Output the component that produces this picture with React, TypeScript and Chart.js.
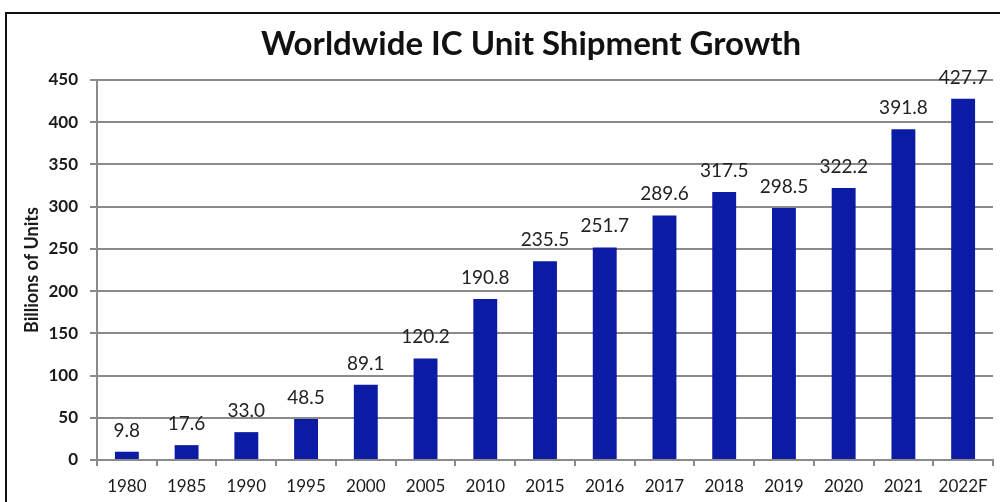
import React, { useEffect, useRef } from "react";
import { Chart, registerables } from "chart.js";

Chart.register(...registerables);

const categories = ["1980", "1985", "1990", "1995", "2000", "2005", "2010", "2015", "2016", "2017", "2018", "2019", "2020", "2021", "2022F"];
const shipments = [9.8, 17.6, 33.0, 48.5, 89.1, 120.2, 190.8, 235.5, 251.7, 289.6, 317.5, 298.5, 322.2, 391.8, 427.7];
const chartTitle = "Worldwide IC Unit Shipment Growth";
const yTitle = "Billions of Units";

const FONT = "Lato, 'Open Sans', sans-serif";

const decorPlugin = {
  id: "decor",
  beforeDraw(chart: any) {
    const ctx = chart.ctx;
    ctx.save();
    ctx.fillStyle = "#ffffff";
    ctx.fillRect(0, 0, chart.width, chart.height);
    ctx.fillStyle = "#111111";
    ctx.fillRect(5, 12, chart.width - 5, 2);
    ctx.fillRect(5, 12, 2, chart.height - 12);
    ctx.restore();
  },
  afterDraw(chart: any) {
    const ctx = chart.ctx;
    ctx.save();
    ctx.fillStyle = "#111111";
    ctx.font = `bold 33px ${FONT}`;
    ctx.textAlign = "center";
    ctx.textBaseline = "alphabetic";
    ctx.fillText(chartTitle, 531, 55);
    const meta = chart.getDatasetMeta(0);
    ctx.font = `19px ${FONT}`;
    ctx.fillStyle = "#222222";
    meta.data.forEach((bar: any, i: number) => {
      const v = shipments[i];
      ctx.fillText(v.toFixed(1), bar.x, bar.y - 15);
    });
    ctx.restore();
  },
};

export default function App() {
  const ref = useRef<HTMLCanvasElement | null>(null);
  useEffect(() => {
    if (!ref.current) return;
    const chart = new Chart(ref.current, {
      type: "bar",
      data: {
        labels: categories,
        datasets: [
          {
            data: shipments,
            backgroundColor: "#0c1ba3",
            categoryPercentage: 0.8,
            barPercentage: 0.5,
          },
        ],
      },
      options: {
        responsive: false,
        animation: false,
        layout: { padding: { top: 80, right: 7, bottom: 0, left: 0 } },
        plugins: {
          legend: { display: false },
          title: { display: false },
          tooltip: { enabled: false },
        },
        scales: {
          x: {
            grid: {
              display: true,
              drawOnChartArea: false,
              drawTicks: true,
              tickLength: 6,
              color: "#8a8a8a",
              lineWidth: 2,
            },
            border: { color: "#8a8a8a", width: 2 },
            ticks: {
              color: "#1a1a1a",
              font: { family: FONT, size: 17 },
              padding: 10,
              maxRotation: 0,
              autoSkip: false,
            },
            afterFit: (s: any) => {
              s.height = 42;
            },
          },
          y: {
            min: 0,
            max: 450,
            ticks: {
              stepSize: 50,
              color: "#1a1a1a",
              font: { family: FONT, size: 17, weight: "bold" },
              padding: 12,
            },
            grid: {
              color: "#8a8a8a",
              lineWidth: 2,
              tickLength: 7,
            },
            border: { color: "#8a8a8a", width: 2 },
            title: {
              display: true,
              text: yTitle,
              color: "#1a1a1a",
              font: { family: FONT, size: 18, weight: "bold" },
              padding: { top: 21, bottom: 0 },
            },
            afterFit: (s: any) => {
              s.width = 97;
            },
          },
        },
      },
      plugins: [decorPlugin],
    });
    return () => chart.destroy();
  }, []);
  return (
    <div style={{ position: "absolute", left: 0, top: 0, width: 1000, height: 502 }}>
      <canvas ref={ref} width={1000} height={502} style={{ display: "block" }} />
    </div>
  );
}
